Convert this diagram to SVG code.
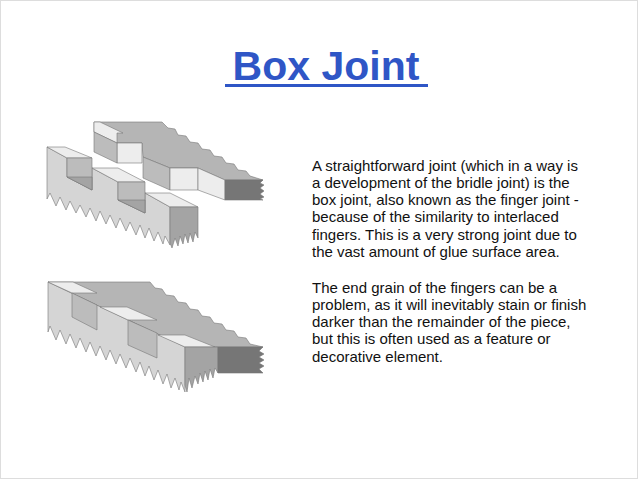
<svg xmlns="http://www.w3.org/2000/svg" width="638" height="479" viewBox="0 0 638 479">
<style>
.t{font-family:"Liberation Sans",Arial,sans-serif;font-size:15px;fill:#111}
.title{font-family:"Liberation Sans",Arial,sans-serif;font-size:41px;font-weight:bold;fill:#2f56c6}
.e{stroke:#777;stroke-width:0.6;stroke-linejoin:round}
.top{fill:#b5b5b5}.lt{fill:#ededed}.fr{fill:#d5d5d5}.md{fill:#bcbcbc}.dk{fill:#a4a4a4}.xd{fill:#767676}
</style>
<rect x="0.5" y="0.5" width="637" height="478" fill="#fff" stroke="#ddd"/>
<text class="title" x="326" y="80" text-anchor="middle">Box Joint</text>
<rect x="225" y="84" width="203" height="3" fill="#2f56c6"/>
<g id="top-joint">
<g id="pieceA">
<polygon class="top e" points="94,122 162,122 168,128 175,129 178,135 186,136 190,142 198,143 202,149 210,150 214,156 222,157 226,163 234,164 238,170 246,171 250,176 263,180 225,180 198,168 170,168 143,157 142,143 117,143 94,132"/>
<polygon class="lt e" points="94,122 100,122 123,133 117,133 117,143 94,132"/>
<polygon class="lt e" points="117,143 142,143 142,163 117,163"/>
<polygon class="md e" points="94,132 117,143 117,163 94,152"/>
<polygon class="md e" points="143,157 170,168 170,190 143,178"/>
<polygon class="lt e" points="170,168 198,168 198,190 170,190"/>
<polygon class="lt e" points="198,168 225,180 225,200 198,190"/>
<polygon class="xd e" points="225,180 263,180 260,183 264,185 260,188 264,191 260,194 264,197 260,199 263,200 225,200"/>
</g>
<g id="pieceB">
<polygon class="fr e" points="47,147 67,158 67,177 92,190 92,168 118,182 118,200 145,213 145,193 170,207 170,245 165,236 163,244 158,232 154,241 149,228 145,238 140,225 136,235 130,222 126,231 120,218 116,228 110,215 106,224 100,211 96,221 90,208 86,217 80,205 76,213 70,201 66,210 60,197 56,206 50,193 47,199"/>
<polygon class="lt e" points="47,147 65,147 92,158 67,158"/>
<polygon class="md e" points="67,158 92,158 92,190 67,177"/>
<polygon class="dk e" points="67,177 92,177 92,190"/>
<polygon class="lt e" points="92,168 118,168 145,182 118,182"/>
<polygon class="md e" points="118,182 145,182 145,213 118,200"/>
<polygon class="dk e" points="118,200 145,200 145,213"/>
<polygon class="lt e" points="145,193 170,193 198,207 170,207"/>
<polygon class="dk e" points="170,207 198,207 198,238 195,232 193,242 190,233 188,243 185,234 183,244 180,236 178,246 175,238 172,248 170,243"/>
</g>
</g>
<g id="bottom-joint">
<polygon class="top e" points="73,282 150,282 155,288 162,289 166,295 174,296 178,302 186,303 190,309 198,310 202,316 210,317 214,323 222,324 226,330 234,331 238,337 246,338 250,344 263,347 185,347 48,282"/>
<polygon class="fr e" points="48,282 185,347 185,392 181,382 179,390 175,378 171,388 167,374 163,384 158,370 154,380 149,366 145,376 140,362 136,372 130,358 126,368 120,354 116,364 110,350 106,360 100,346 96,356 90,342 86,352 80,338 76,348 70,334 66,344 60,330 56,340 50,326 48,332"/>
<polygon class="lt e" points="48,282 73,282 97,293 72,293"/>
<polygon class="md e" points="72,293 97,305 97,330 72,317"/>
<polygon class="lt e" points="100,307 127,307 157,320 128,320"/>
<polygon class="md e" points="128,320 157,333 157,358 128,345"/>
<polygon class="lt e" points="158,335 185,335 215,347 185,347"/>
<polygon class="dk e" points="185,347 218,347 218,373 215,368 213,378 210,369 208,380 205,371 203,382 200,373 198,384 195,376 192,388 189,378 187,392 185,385"/>
<polygon class="xd e" points="218,347 263,347 259,351 264,354 259,357 264,360 259,363 264,366 259,369 263,373 218,373"/>
</g>
<g id="text">
<text class="t" x="312" y="171">A straightforward joint (which in a way is</text>
<text class="t" x="312" y="188">a development of the bridle joint) is the</text>
<text class="t" x="312" y="205">box joint, also known as the finger joint -</text>
<text class="t" x="312" y="222">because of the similarity to interlaced</text>
<text class="t" x="312" y="240">fingers. This is a very strong joint due to</text>
<text class="t" x="312" y="257">the vast amount of glue surface area.</text>
<text class="t" x="312" y="293">The end grain of the fingers can be a</text>
<text class="t" x="312" y="310">problem, as it will inevitably stain or finish</text>
<text class="t" x="312" y="327">darker than the remainder of the piece,</text>
<text class="t" x="312" y="344">but this is often used as a feature or</text>
<text class="t" x="312" y="362">decorative element.</text>
</g>
</svg>
